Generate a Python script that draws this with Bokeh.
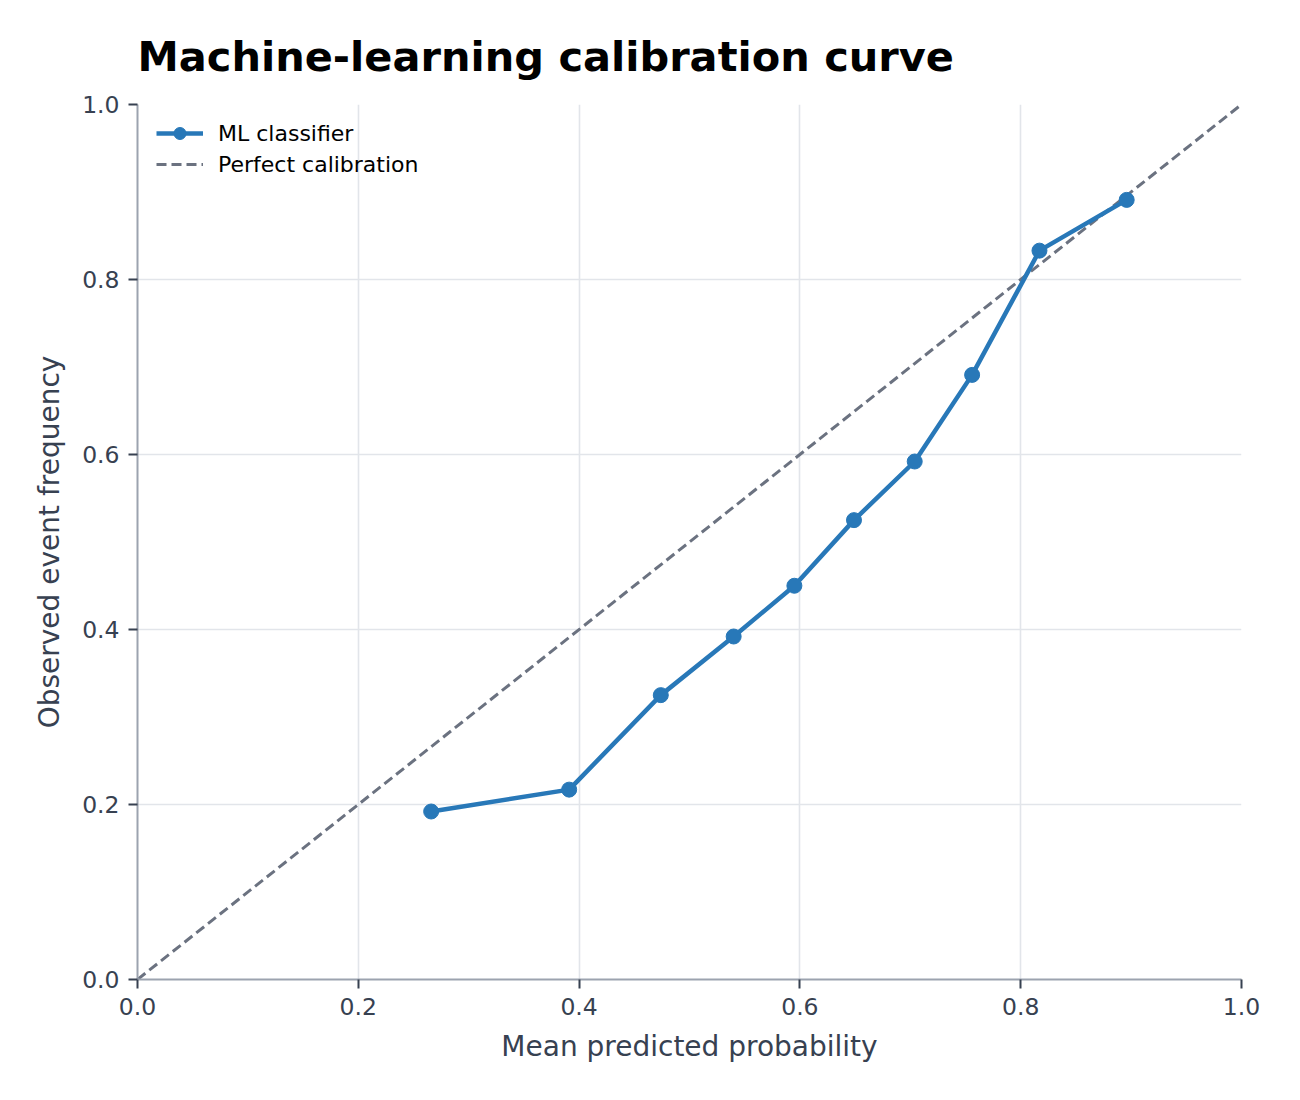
from bokeh.plotting import figure
from bokeh.models import Range1d, FixedTicker, Legend, LegendItem, NumeralTickFormatter
from bokeh.embed import file_html
from bokeh.resources import INLINE

# Data
mean_pred = [0.266, 0.391, 0.474, 0.540, 0.595, 0.649, 0.704, 0.756, 0.817, 0.896]
obs_freq = [0.192, 0.217, 0.325, 0.392, 0.450, 0.525, 0.592, 0.691, 0.833, 0.891]
diag_x = [0.0, 1.0]
diag_y = [0.0, 1.0]
tick_vals = [0.0, 0.2, 0.4, 0.6, 0.8, 1.0]

FONT = "DejaVu Sans"
TXT = "#374151"

p = figure(width=1284, height=1084, output_backend="svg", toolbar_location=None,
           x_range=Range1d(0, 1), y_range=Range1d(0, 1),
           min_border_left=137, min_border_right=43, min_border_top=104, min_border_bottom=105,
           title="Machine-learning calibration curve")

p.title.text_font = FONT
p.title.text_font_size = "41.5px"
p.title.text_font_style = "bold"
p.title.text_color = "#000000"
p.title.align = "left"
p.title.standoff = 47

p.outline_line_color = None
p.background_fill_color = "white"
p.border_fill_color = "white"

for ax in (p.xaxis[0], p.yaxis[0]):
    ax.ticker = FixedTicker(ticks=tick_vals)
    ax.formatter = NumeralTickFormatter(format="0.0")
    ax.axis_line_color = "#9ca3af"
    ax.axis_line_width = 2
    ax.major_tick_line_color = "#374151"
    ax.major_tick_line_width = 2
    ax.major_tick_out = 9
    ax.major_tick_in = 0
    ax.minor_tick_line_color = None
    ax.major_label_text_font = FONT
    ax.major_label_text_font_size = "23.5px"
    ax.major_label_text_color = TXT
    ax.axis_label_text_font = FONT
    ax.axis_label_text_font_size = "28px"
    ax.axis_label_text_font_style = "normal"
    ax.axis_label_text_color = TXT

p.xaxis.axis_label = "Mean predicted probability"
p.yaxis.axis_label = "Observed event frequency"
p.xaxis.major_label_standoff = 9
p.yaxis.major_label_standoff = 9
p.xaxis.axis_label_standoff = 12
p.yaxis.axis_label_standoff = 13

p.xgrid.ticker = FixedTicker(ticks=tick_vals)
p.ygrid.ticker = FixedTicker(ticks=tick_vals)
p.grid.grid_line_color = "#e2e5ea"
p.grid.grid_line_width = 1.6

diag = p.line(diag_x, diag_y, line_color="#6b7280", line_width=3, line_dash="10 5")
ml_line = p.line(mean_pred, obs_freq, line_color="#2878b8", line_width=4.5)
ml_pts = p.scatter(mean_pred, obs_freq, size=15, fill_color="#2878b8", line_color="#2878b8")

legend = Legend(items=[
    LegendItem(label="ML classifier", renderers=[ml_line, ml_pts]),
    LegendItem(label="Perfect calibration", renderers=[diag]),
], location=(19, 800))
legend.label_text_font = FONT
legend.label_text_font_size = "22px"
legend.label_text_color = "#000000"
legend.border_line_color = None
legend.background_fill_alpha = 0.0
legend.glyph_width = 47
legend.glyph_height = 30
legend.label_standoff = 15
legend.spacing = 1
legend.margin = 0
legend.padding = 4
p.add_layout(legend)

open("out.html", "w").write(file_html(p, INLINE))
